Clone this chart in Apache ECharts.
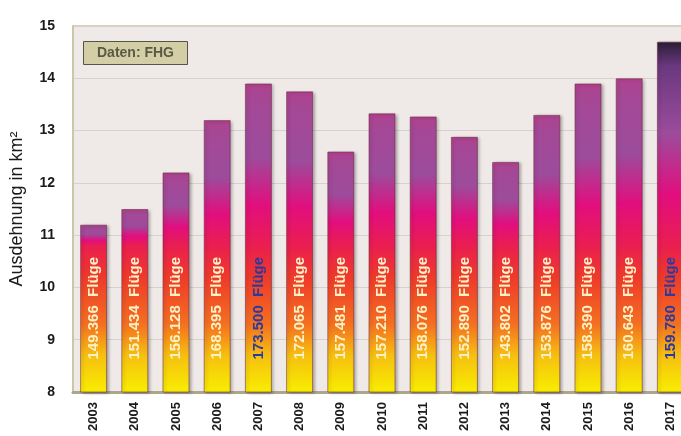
<!DOCTYPE html>
<html>
<head>
<meta charset="utf-8">
<script src="https://cdn.jsdelivr.net/npm/echarts@6/dist/echarts.min.js"></script>
<style>
  html, body { margin: 0; padding: 0; background: #fff; }
  #main { width: 681px; height: 436px; }
</style>
</head>
<body>
<div id="main"></div>
<script>
// Jahre, Ausdehnung (km²) und Anzahl Flüge
var years = ['2003', '2004', '2005', '2006', '2007', '2008', '2009', '2010', '2011', '2012', '2013', '2014', '2015', '2016', '2017'];
var areaKm2 = [11.2, 11.5, 12.2, 13.2, 13.9, 13.75, 12.6, 13.33, 13.27, 12.88, 12.4, 13.3, 13.9, 14.0, 14.7];
var flights = [149366, 151434, 156128, 168395, 173500, 172065, 157481, 157210, 158076, 152890, 143802, 153876, 158390, 160643, 159780];
var blueYears = ['2007', '2017'];
var yTicks = [8, 15, 1]; // min, max, interval

function fmt(n) {
  return String(n).replace(/\B(?=(\d{3})+(?!\d))/g, '.');
}

// Farbverlauf je Balken (unten gelb -> rot -> magenta -> lila)
function barGradient(top, dark) {
  var base = yTicks[0];
  var U = Math.max(top - 10.8, 0.2);
  var pts = [
    [top, dark ? '#2a1e36' : '#b0428f'],
    [top - 0.12 * U, dark ? '#6a3880' : '#a44896'],
    [top - 0.45 * U, '#9c4c9c'],
    [top - 0.75 * U, '#e20e7e'],
    [10.8, '#ea1e50'],
    [10.2, '#ee3a2a'],
    [9.3, '#f47020'],
    [8.7, '#f6c010'],
    [base, '#f8ee00']
  ];
  var stops = [];
  pts.forEach(function (p) {
    var off = (top - p[0]) / (top - base);
    off = Math.min(Math.max(off, 0), 1);
    stops.push({ offset: off, color: p[1] });
  });
  stops.sort(function (a, b) { return a.offset - b.offset; });
  return new echarts.graphic.LinearGradient(0, 0, 0, 1, stops);
}

var myChart = echarts.init(document.getElementById('main'));

var barData = areaKm2.map(function (v, i) {
  var blue = blueYears.indexOf(years[i]) >= 0;
  return {
    value: v,
    itemStyle: { color: barGradient(v, years[i] === '2017') },
    label: { color: blue ? '#2b3a9c' : '#fdf2c6' }
  };
});

myChart.setOption({
  backgroundColor: '#ffffff',
  title: {
    text: 'Daten: FHG',
    left: 83,
    top: 41,
    padding: [5, 14, 5, 14],
    backgroundColor: '#d4cea7',
    borderColor: '#55544a',
    borderWidth: 1,
    textStyle: {
      fontFamily: 'Liberation Sans',
      fontSize: 14,
      fontWeight: 'bold',
      color: '#5a5a44'
    }
  },
  grid: {
    left: 73,
    top: 26,
    width: 618,
    height: 366,
    outerBoundsMode: 'none',
    containLabel: false,
    show: true,
    backgroundColor: '#efe9e8',
    borderColor: '#c9c5a2',
    borderWidth: 1.5
  },
  xAxis: {
    type: 'category',
    data: years,
    axisTick: { show: false },
    axisLine: { lineStyle: { color: '#aaa78a', width: 3 } },
    axisLabel: {
      rotate: 90,
      margin: 10,
      fontFamily: 'Liberation Sans',
      fontSize: 13,
      fontWeight: 'bold',
      color: '#1a1a1a'
    }
  },
  yAxis: {
    type: 'value',
    min: yTicks[0],
    max: yTicks[1],
    interval: yTicks[2],
    name: 'Ausdehnung in km²',
    nameLocation: 'middle',
    nameGap: 47,
    nameTextStyle: {
      fontFamily: 'Liberation Sans',
      fontSize: 18,
      color: '#1a1a1a'
    },
    axisLine: { show: true, lineStyle: { color: '#c9c5a2', width: 1.5 } },
    axisTick: { show: false },
    splitLine: { lineStyle: { color: '#d6d1d1' } },
    axisLabel: {
      margin: 18,
      fontFamily: 'Liberation Sans',
      fontSize: 14,
      fontWeight: 'bold',
      color: '#1a1a1a'
    }
  },
  series: [{
    type: 'bar',
    data: barData,
    barWidth: 27,
    itemStyle: {
      borderColor: 'rgba(110,40,60,0.55)',
      borderWidth: 1,
      shadowColor: 'rgba(0,0,0,0.3)',
      shadowBlur: 3,
      shadowOffsetX: 2,
      shadowOffsetY: 1
    },
    label: {
      show: true,
      position: 'insideBottom',
      distance: 33,
      rotate: 90,
      align: 'left',
      verticalAlign: 'middle',
      fontFamily: 'Liberation Sans',
      fontSize: 15,
      fontWeight: 'bold',
      formatter: function (p) {
        return fmt(flights[p.dataIndex]) + '  Flüge';
      }
    }
  }]
});
</script>
</body>
</html>
